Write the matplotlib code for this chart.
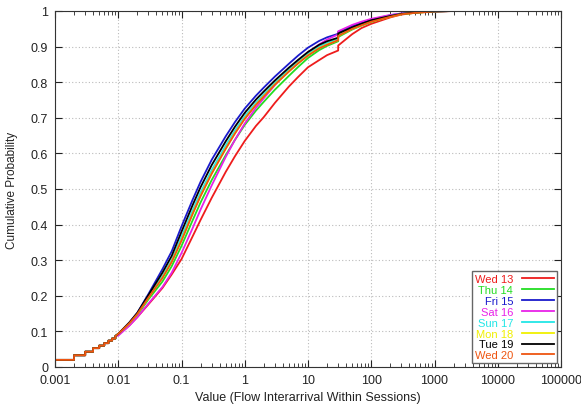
import numpy as np
import matplotlib
matplotlib.use("Agg")
import matplotlib.pyplot as plt
from matplotlib.ticker import LogLocator, NullFormatter

plt.rcParams['font.family'] = ['Liberation Sans', 'DejaVu Sans']

# shared step part (millisecond resolution)
step_x = [0.001, 0.002, 0.003, 0.004, 0.005, 0.006, 0.007, 0.008, 0.009]
step_p = [0.020, 0.033, 0.043, 0.053, 0.060, 0.067, 0.074, 0.080, 0.087]

labels = ["Wed 13", "Thu 14", "Fri 15", "Sat 16", "Sun 17", "Mon 18", "Tue 19", "Wed 20"]
colors = ["#ee1c1c", "#22dd22", "#1a1acc", "#e822e8", "#22e6e6", "#f0f000", "#000000", "#ee5511"]

# x grid (seconds); 30 appears twice for the jump at 30 s
grid_x = [0.01, 0.015, 0.02, 0.03, 0.05, 0.07, 0.1, 0.15, 0.2, 0.3, 0.5, 0.7, 1, 1.5, 2, 3, 5, 7,
          10, 15, 20, 30, 30, 50, 70, 100, 200, 300, 500, 1000, 2000, 100000]

wed13_p = [0.091, 0.117, 0.140, 0.176, 0.222, 0.260, 0.303, 0.367, 0.413, 0.475, 0.548, 0.592, 0.635, 0.677, 0.702, 0.742, 0.788, 0.815,
           0.842, 0.862, 0.876, 0.889, 0.903, 0.935, 0.952, 0.964, 0.982, 0.990, 0.995, 0.998, 1.0, 1.0]
thu14_p = [0.093, 0.121, 0.146, 0.190, 0.240, 0.283, 0.340, 0.412, 0.462, 0.525, 0.595, 0.638, 0.680, 0.720, 0.745, 0.779, 0.818, 0.843,
           0.868, 0.890, 0.902, 0.915, 0.927, 0.948, 0.959, 0.969, 0.985, 0.991, 0.995, 0.999, 1.0, 1.0]
fri15_p = [0.093, 0.125, 0.152, 0.205, 0.275, 0.325, 0.395, 0.470, 0.520, 0.582, 0.648, 0.688, 0.726, 0.762, 0.785, 0.816, 0.852, 0.875,
           0.897, 0.916, 0.926, 0.936, 0.941, 0.958, 0.967, 0.976, 0.988, 0.993, 0.996, 0.999, 1.0, 1.0]
sat16_p = [0.088, 0.116, 0.140, 0.178, 0.225, 0.265, 0.320, 0.390, 0.442, 0.510, 0.590, 0.638, 0.684, 0.728, 0.755, 0.792, 0.835, 0.860,
           0.884, 0.906, 0.920, 0.934, 0.943, 0.961, 0.970, 0.978, 0.989, 0.993, 0.996, 0.999, 1.0, 1.0]
sun17_p = [0.093, 0.123, 0.149, 0.197, 0.255, 0.300, 0.365, 0.440, 0.490, 0.553, 0.622, 0.664, 0.704, 0.742, 0.766, 0.798, 0.835, 0.857,
           0.880, 0.900, 0.910, 0.922, 0.933, 0.952, 0.962, 0.972, 0.986, 0.992, 0.996, 0.999, 1.0, 1.0]
mon18_p = [0.093, 0.123, 0.149, 0.195, 0.251, 0.296, 0.357, 0.431, 0.481, 0.544, 0.614, 0.657, 0.698, 0.737, 0.761, 0.794, 0.831, 0.854,
           0.876, 0.896, 0.906, 0.918, 0.930, 0.950, 0.960, 0.970, 0.984, 0.991, 0.995, 0.999, 1.0, 1.0]
tue19_p = [0.093, 0.125, 0.152, 0.202, 0.265, 0.312, 0.380, 0.455, 0.505, 0.567, 0.634, 0.675, 0.714, 0.751, 0.774, 0.805, 0.841, 0.863,
           0.885, 0.905, 0.915, 0.925, 0.937, 0.954, 0.964, 0.974, 0.986, 0.992, 0.996, 0.999, 1.0, 1.0]
wed20_p = [0.093, 0.123, 0.149, 0.195, 0.250, 0.295, 0.355, 0.430, 0.480, 0.543, 0.613, 0.656, 0.697, 0.736, 0.760, 0.793, 0.830, 0.853,
           0.875, 0.895, 0.905, 0.918, 0.930, 0.950, 0.960, 0.970, 0.984, 0.991, 0.995, 0.999, 1.0, 1.0]

series = [wed13_p, thu14_p, fri15_p, sat16_p, sun17_p, mon18_p, tue19_p, wed20_p]

fig = plt.figure(figsize=(5.81, 4.06), dpi=100)
ax = fig.add_axes([55/581, 38/406, (561-55)/581, (368-12)/406])

for i, sp in enumerate(series):
    xs, ps = [], []
    for k in range(len(step_x)):
        xs += [step_x[k], step_x[k] + 0.001]
        ps += [step_p[k], step_p[k]]
    xs = xs[:-1] + list(grid_x)
    ps = ps[:-1] + list(sp)
    ax.plot(xs, ps, color=colors[i], lw=1.3, label=labels[i])

ax.set_xscale('log')
ax.set_xlim(0.001, 100000)
ax.set_ylim(0, 1)
xt = [0.001, 0.01, 0.1, 1, 10, 100, 1000, 10000, 100000]
ax.set_xticks(xt)
ax.set_xticklabels(["0.001", "0.01", "0.1", "1", "10", "100", "1000", "10000", "100000"])
ax.xaxis.set_minor_locator(LogLocator(base=10, subs=np.arange(2, 10), numticks=20))
ax.xaxis.set_minor_formatter(NullFormatter())
yt = [0, 0.1, 0.2, 0.3, 0.4, 0.5, 0.6, 0.7, 0.8, 0.9, 1]
ax.set_yticks(yt)
ax.set_yticklabels(["0", "0.1", "0.2", "0.3", "0.4", "0.5", "0.6", "0.7", "0.8", "0.9", "1"])
ax.tick_params(which='both', direction='in', top=True, right=True, labelsize=9, colors='#222222')
ax.tick_params(axis='x', which='major', pad=5)
ax.tick_params(axis='y', which='major', pad=5)
ax.tick_params(which='major', length=5)
ax.tick_params(which='minor', length=3)
ax.grid(True, which='major', color='#bbbbbb', linestyle=(0, (1, 2)), lw=0.8)
for s in ax.spines.values():
    s.set_color('#333333')

ax.set_xlabel("Value (Flow Interarrival Within Sessions)", fontsize=9, color='#222222', labelpad=4)
ax.set_ylabel("Cumulative Probability", fontsize=8.5, color='#222222', labelpad=9)

leg = ax.legend(loc='lower right', fontsize=8,
                markerfirst=False, labelcolor='linecolor',
                fancybox=False, edgecolor='#666666', framealpha=1, handlelength=2.9,
                labelspacing=0.08, borderpad=0.25, borderaxespad=0.35, handletextpad=0.8)
leg.get_frame().set_linewidth(1.0)

fig.savefig("out.png", dpi=100)
